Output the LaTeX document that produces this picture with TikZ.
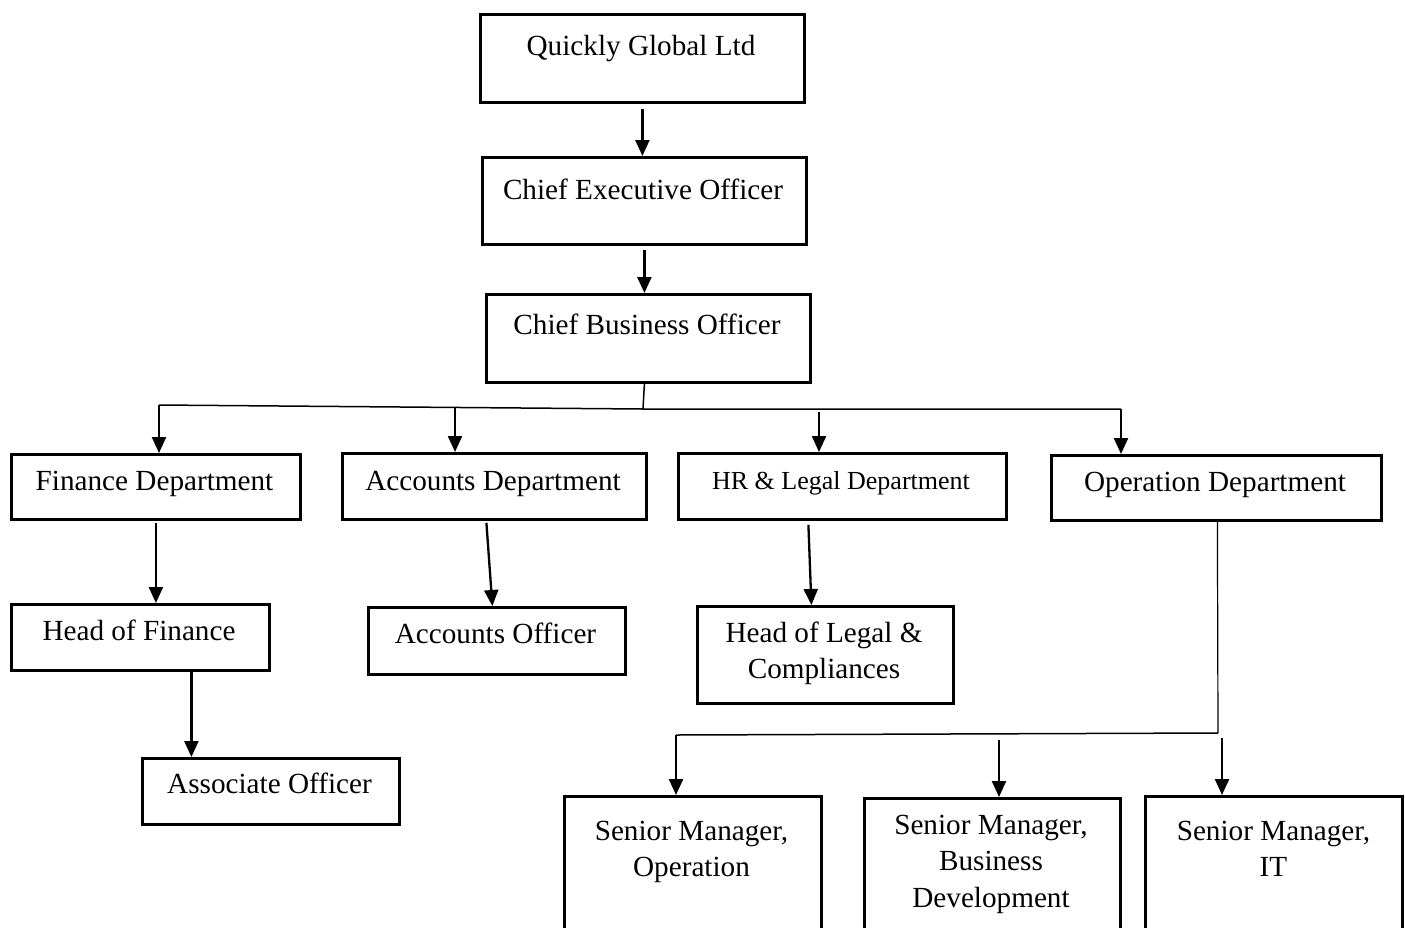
\documentclass[tikz,border=0pt]{standalone}
\usepackage{fontspec}
\setmainfont{Liberation Serif}
\usetikzlibrary{arrows.meta,calc}
\begin{document}
\begin{tikzpicture}[x=1pt,y=-1pt,
  box/.style={draw, line width=2.8pt, rectangle, inner sep=0pt, anchor=north west},
  txt/.style={inner sep=0pt, anchor=base, font=\fontsize{29.2}{36.5}\selectfont},
  smalltxt/.style={inner sep=0pt, anchor=base, font=\fontsize{26}{32}\selectfont},
  arr/.style={line width=2.3pt, -{Triangle[length=16pt,width=14pt]}},
  thinline/.style={line width=1.5pt}]
\fill[white] (0,0) rectangle (1405,927);
\clip (0,0) rectangle (1405,927);
% boxes
\node[box, minimum width=324pt, minimum height=88pt] (qgl) at (479,13) {};
\node[box, minimum width=324pt, minimum height=87pt] (ceo) at (481,156) {};
\node[box, minimum width=324pt, minimum height=88pt] (cbo) at (485,293) {};
\node[box, minimum width=289pt, minimum height=65pt] (fin) at (10,453) {};
\node[box, minimum width=304pt, minimum height=66pt] (acc) at (341,452) {};
\node[box, minimum width=328pt, minimum height=66pt] (hr) at (677,452) {};
\node[box, minimum width=330pt, minimum height=65pt] (op) at (1050,454) {};
\node[box, minimum width=258pt, minimum height=66pt] (hof) at (10,603) {};
\node[box, minimum width=257pt, minimum height=67pt] (ao) at (367,606) {};
\node[box, minimum width=256pt, minimum height=97pt] (hol) at (696,605) {};
\node[box, minimum width=257pt, minimum height=66pt] (assoc) at (141,757) {};
\node[box, minimum width=257pt, minimum height=160pt] (smop) at (563,795) {};
\node[box, minimum width=256pt, minimum height=160pt] (smbd) at (863,797) {};
\node[box, minimum width=257pt, minimum height=160pt] (smit) at (1144,795) {};
% texts
\node[txt] (qglt) at (641,55) {Quickly Global Ltd};
\node[txt] (ceot) at (643,199) {Chief Executive Officer};
\node[txt] (cbot) at (647,334) {Chief Business Officer};
\node[txt] (fint) at (154.5,490) {Finance Department};
\node[txt] (acct) at (493,490) {Accounts Department};
\node[smalltxt] (hrt) at (841,489) {HR \& Legal Department};
\node[txt] (opt) at (1215,491) {Operation Department};
\node[txt] (hoft) at (139,640) {Head of Finance};
\node[txt] (aot) at (495.5,643) {Accounts Officer};
\node[txt] (holt) at (824,642) {\begin{tabular}[t]{@{}c@{}}Head of Legal \&\\Compliances\end{tabular}};
\node[txt] (assoct) at (269.5,793) {Associate Officer};
\node[txt] (smopt) at (691.5,840) {\begin{tabular}[t]{@{}c@{}}Senior Manager,\\Operation\end{tabular}};
\node[txt] (smbdt) at (991,834) {\begin{tabular}[t]{@{}c@{}}Senior Manager,\\Business\\Development\end{tabular}};
\node[txt] (smitt) at (1273.5,840) {\begin{tabular}[t]{@{}c@{}}Senior Manager,\\IT\end{tabular}};
% top chain
\draw[arr] ([yshift=-5pt]qgl.south) -- (qgl.south |- ceo.north);
\draw[arr] ([yshift=-4pt]ceo.south) -- (ceo.south |- cbo.north);
% first bus
\coordinate (busL) at (159,405);
\coordinate (busM) at (643,409);
\coordinate (busR) at (1121,409);
\coordinate (busA) at (455,407);
\coordinate (busH) at (819,412);
\draw[thinline] ([xshift=-4pt]cbo.south) -- (busM);
\draw[thinline] (busL) -- (busM) -- (busR);
\draw[arr] (busL) -- (busL |- fin.north);
\draw[arr] (busA) -- (busA |- acc.north);
\draw[arr] (busH) -- (busH |- hr.north);
\draw[arr] (busR) -- (busR |- op.north);
% department children
\draw[arr] ([yshift=-2pt]fin.south) -- (fin.south |- hof.north);
\draw[arr] ([xshift=-8pt,yshift=-2pt]acc.south) -- ([xshift=-4.5pt]ao.north);
\draw[arr] ([xshift=-34pt,yshift=-4pt]hr.south) -- ([xshift=-14pt]hol.north);
\draw[arr] ([xshift=51pt]hof.south) -- ([xshift=51pt]hof.south |- assoc.north);
% operation bus
\coordinate (bus2L) at (676,735);
\coordinate (bus2R) at (1218,733);
\coordinate (bus2B) at (999,740);
\coordinate (bus2I) at (1222,738);
\draw[line width=1.2pt] ([xshift=1pt]op.south) -- (bus2R);
\draw[thinline] (bus2L) -- (bus2R);
\draw[arr] (bus2L) -- (bus2L |- smop.north);
\draw[arr] (bus2B) -- (bus2B |- smbd.north);
\draw[arr] (bus2I) -- (bus2I |- smit.north);
\end{tikzpicture}
\end{document}
